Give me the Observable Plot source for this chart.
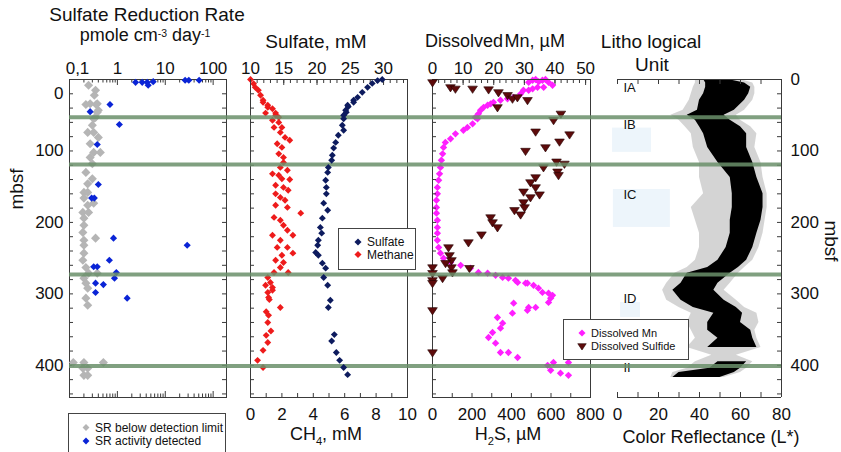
<!DOCTYPE html>
<html>
<head>
<meta charset="utf-8">
<script src="https://cdn.jsdelivr.net/npm/d3@7"></script>
<script src="https://cdn.jsdelivr.net/npm/@observablehq/plot@0.6"></script>
<style>
html,body{margin:0;padding:0;background:#fff;}
#chart{position:relative;width:841px;height:452px;overflow:hidden;background:#fff;font-family:"Liberation Sans",Arial,Helvetica,sans-serif;color:#111;}
#chart svg{position:absolute;top:0;}
.t{position:absolute;white-space:nowrap;line-height:1;transform:translateX(-50%);}
.t sub{font-size:62%;line-height:0;}
.t sup{font-size:58%;line-height:0;vertical-align:0.4em;}
.rot{position:absolute;white-space:nowrap;line-height:1;font-size:19px;}
</style>
</head>
<body>
<div id="chart"></div>
<script>
// ---------------- DATA ----------------
// Lithologic unit boundaries (mbsf) and unit labels
const unitBoundaries = [53, 119, 273, 401];
const units = ["IA", "IB", "IC", "ID", "II"];
const unitLabelDepth = [11, 64, 162, 307, 403];
// faint highlight boxes behind unit labels (L*, mbsf)
const boxLeft = [-2.4, -2, 1.5];
const boxRight = [16.6, 25.8, 11.2];
const boxTop = [68, 154, 312];
const boxBottom = [102, 207, 333];

// Sulfate reduction rate [pmol cm-3 d-1, depth mbsf]
const srBelow = [[0.25,8],[0.35,15],[0.33,22],[0.38,34],[0.27,34],[0.40,43],[0.35,53],[0.22,35],[0.36,35],[0.38,46],[0.32,55],[0.30,64],[0.24,74],[0.32,74],[0.40,81],[0.27,90],[0.32,102],[0.44,102],[0.27,109],[0.30,118],[0.22,130],[0.30,139],[0.24,146],[0.24,158],[0.20,158],[0.20,166],[0.32,173],[0.24,176],[0.19,186],[0.25,186],[0.20,194],[0.20,204],[0.19,214],[0.35,222],[0.20,225],[0.20,232],[0.20,243],[0.19,253],[0.22,263],[0.25,271],[0.38,271],[0.20,278],[0.22,285],[0.24,292],[0.22,306],[0.24,316],[0.12,396],[0.20,396],[0.51,396],[0.19,404],[0.24,404],[0.20,414],[0.24,414]];
const srActive = [[2.4,4],[3.3,4],[4.2,4],[4.4,8],[5.6,3],[26,1],[31,1],[51,1],[0.70,35],[0.27,45],[1.1,63],[0.38,91],[0.40,147],[0.29,166],[0.33,166],[0.83,222],[28.7,232],[0.68,253],[0.32,262],[0.38,262],[0.95,270],[0.87,278],[0.35,285],[0.51,287],[0.35,298],[1.6,306]];
const srTicks = [0.1, 1, 10, 100];
const srTickLabels = ["0,1", "1", "10", "100"];

// Sulfate [mM, depth] and methane [mM, depth]
const sulfate = [[29.8,0],[29.1,1.5],[28.3,5.5],[27.6,11],[26.8,18],[26.1,25],[25.5,29],[24.7,38],[24.3,43],[24.0,50],[25.5,32],[24.6,36],[24.4,46],[24.0,55],[23.8,64],[24.0,71],[23.2,78],[22.8,88],[22.5,96],[22.3,106],[22.2,113],[21.7,123],[21.6,130],[21.3,141],[21.4,151],[21.4,160],[21.0,173],[21.6,183],[20.8,194],[20.5,207],[20.7,215],[20.2,225],[20.1,232],[19.8,242],[20.2,246],[20.8,257],[21.3,264],[21.0,277],[21.6,288],[22.0,309],[21.7,319],[22.6,357],[22.2,366],[22.9,382],[23.4,393],[24.0,403],[24.6,413]];
const methane = [[0,0],[0.2,6],[0.3,11],[0.5,15],[0.64,22],[0.8,29],[1.1,36],[1.4,41],[1.6,50],[1.8,53],[0.8,32],[1.1,39],[0.96,47],[1.6,47],[1.4,57],[1.8,60],[1.5,67],[2.0,67],[1.9,74],[2.2,81],[2.5,85],[1.7,90],[2.0,95],[1.8,104],[2.1,109],[2.1,116],[1.9,123],[2.35,127],[1.4,132],[1.8,134],[2.0,139],[2.5,140],[1.6,148],[2.1,151],[2.4,155],[1.6,160],[1.9,165],[2.2,169],[1.6,176],[2.35,179],[3.2,187],[1.5,193],[1.9,197],[2.1,204],[2.35,211],[1.4,218],[2.7,218],[1.9,225],[1.7,235],[2.35,235],[2.7,243],[2.0,246],[1.6,253],[2.1,256],[1.9,263],[2.4,270],[1.5,270],[1.1,277],[1.27,284],[0.96,288],[1.4,291],[1.1,298],[1.15,305],[1.4,295],[1.2,308],[1.9,319],[1.0,325],[1.15,330],[1.1,340],[1.3,352],[1.0,358],[1.1,368],[0.8,379],[0.45,393],[0.8,403]];

// Dissolved Mn [µM, depth] and dissolved sulfide [µM, depth]
const mn = [[31.4,4],[32.7,1],[33.7,0],[34.7,3],[35.9,1],[36.9,0],[37.9,4],[39.2,8],[36.3,11],[34.3,11],[32.7,13],[31.4,15],[29.7,15],[28.8,20],[26.5,25],[24.5,27],[22.2,29],[19.9,32],[19,34],[18,36],[16.7,39],[15.7,43],[15,48],[14,53],[14.7,55],[13.1,62],[11.4,67],[10.1,71],[7.5,76],[5.9,83],[4.2,88],[3.6,95],[3.3,104],[2.9,113],[2.6,123],[2.3,132],[2.0,141],[1.6,151],[1.6,160],[1.3,169],[1.3,179],[1.3,187],[1.6,197],[1.6,207],[1.6,215],[1.6,225],[2.0,235],[2.6,243],[3.6,250],[5.9,256],[9.2,260],[12.4,264],[15,270],[18,271],[20.6,274],[22.9,277],[24.8,278],[27.1,281],[30.4,285],[33,288],[34.6,292],[35.9,298],[37.9,299],[39.2,302],[38.6,306],[27.8,284],[31,285],[37.9,312],[26.5,313],[26.1,327],[31.4,319],[33.7,319],[31,323],[21.2,333],[22.9,341],[22.2,348],[19.6,354],[18.3,361],[20.6,369],[22.2,382],[24.8,382],[27.8,389],[37.6,400],[39.5,396],[38.6,407],[41.8,411],[44.4,414],[44.4,396]];
const sulfide = [[0,4],[91,11],[116,13],[203,13],[284,14],[334,18],[380,22],[405,27],[430,25],[481,29],[329,39],[650,48],[613,57],[522,73],[694,77],[643,87],[572,95],[471,100],[628,115],[668,118],[562,123],[633,129],[638,134],[522,137],[496,144],[522,151],[461,157],[542,161],[496,165],[461,172],[466,179],[415,183],[446,189],[294,193],[304,200],[329,207],[248,217],[182,228],[81,235],[86,246],[96,253],[66,257],[96,263],[101,270],[187,264],[0,263],[0,271],[51,278],[0,281],[0,285],[0,323],[0,382]];

// Color reflectance L*: depth, dense core range and sparse outer range
const lDepth  = [0,5,11,20,29,43,50,57,66,76,95,116,137,160,179,197,215,235,253,263,271,285,295,309,319,327,340,351,362,375,386,395,404,410,417];
const lCoreLo = [42,43,43,42,40,39,34,38,40,42,44,49,55,56,56,55,55,53,49,44,34,31,27,31,37,47,44,44,49,44,NaN,49,45,30,27];
const lCoreHi = [54,62,65,64,62,57,52,55,60,63,63,66,68,71,71,70,68,66,63,59,55,49,47,52,58,61,60,65,66,68,NaN,63,60,57,50];
const lOutLo  = [38,38,37,36,35,32,26,30,33,36,37,40,40,42,36,38,40,40,38,34,28,24,22,24,30,36,34,36,38,34,46,38,34,27,26];
const lOutHi  = [60,66,67,67,66,62,58,60,65,68,67,70,71,73,73,72,71,69,66,62,59,55,52,58,62,68,69,67,68,70,58,66,63,60,52];

const legendSR = ["SR below detection limit", "SR activity detected"];
const legendSM = ["Sulfate", "Methane"];
const legendMnS = ["Dissolved Mn", "Dissolved Sulfide"];

// ---------------- STYLE / LAYOUT ----------------
const FONT = '"Liberation Sans", Arial, Helvetica, sans-serif';
const H = 452, MT = 79, MB = 55, FH = H - MT - MB;
const depthDomain = [0, 445];
const depthTicks = d3.range(0, 445, 20);
const gray = "#b5b5b5", blue = "#0a24d6", navy = "#0d1b5e", red = "#ee1b1b",
      pink = "#ff1fff", brown = "#5e0b0b", green = "#6a8f6a", ink = "#3a3a3a";
const svgStyle = {background: "transparent", overflow: "visible", fontFamily: FONT, fontSize: "17px", color: "#111"};
const chart = document.getElementById("chart");

const triangleDown = {draw(ctx, size) {
  const s = Math.sqrt(size) * 0.8;
  ctx.moveTo(-s, -s * 0.55); ctx.lineTo(s, -s * 0.55); ctx.lineTo(0, s * 0.95); ctx.closePath();
}};

const topTicks = (vals, len) => Plot.ruleX(vals, {x: d => d, insetBottom: FH - len, stroke: ink});
const bottomTicks = (vals, len) => Plot.ruleX(vals, {x: d => d, insetTop: FH - len, stroke: ink});
const leftTicks = (vals, len, fw) => Plot.ruleY(vals, {y: d => d, insetRight: fw - len, stroke: ink});
const rightTicks = (vals, len, fw) => Plot.ruleY(vals, {y: d => d, insetLeft: fw - len, stroke: ink});
const boundaryRules = (insetLeft, insetRight) => Plot.ruleY(unitBoundaries, {y: d => d, stroke: green, strokeWidth: 4, strokeOpacity: 0.85, insetLeft, insetRight});

function place(svg, left) { svg.style.left = left + "px"; chart.appendChild(svg); }

// ---------------- PANEL 1: SRR ----------------
const logMinor = srTicks.flatMap(d => d3.range(2, 10).map(k => d * k)).filter(v => v <= 190);
place(Plot.plot({
  width: 238, height: H, marginTop: MT, marginBottom: MB, marginLeft: 69, marginRight: 12,
  style: svgStyle,
  x: {type: "log", domain: [0.1, 190]},
  y: {domain: depthDomain, reverse: true},
  marks: [
    Plot.frame({stroke: ink}),
    topTicks(logMinor, 3.5), topTicks(srTicks, 6),
    bottomTicks(logMinor, 3.5), bottomTicks(srTicks, 6),
    leftTicks(depthTicks, 4, 157), rightTicks(depthTicks, 4, 157),
    Plot.axisX({anchor: "top", ticks: srTicks.slice(1), tickSize: 0, tickPadding: 6, tickFormat: d => srTickLabels[srTicks.indexOf(d)], label: null}),
    Plot.text(srTicks.slice(0, 1), {x: d => d, text: () => srTickLabels[0], frameAnchor: "top", lineAnchor: "bottom", dy: -6, dx: 8}),
    Plot.axisY({anchor: "left", ticks: [100, 200, 300, 400], tickSize: 0, tickPadding: 6, label: null}),
    Plot.text([0], {y: d => d, text: () => "0", frameAnchor: "left", textAnchor: "end", dx: -6, dy: 14}),
    Plot.dot(srBelow, {x: d => d[0], y: d => d[1], symbol: "diamond2", r: 4.1, fill: gray}),
    Plot.dot(srActive, {x: d => d[0], y: d => d[1], symbol: "diamond2", r: 3.2, fill: blue}),
    boundaryRules(0, -12)
  ]
}), 0);

// ---------------- PANEL 2: CH4 (bottom) + sulfate (top) ----------------
place(Plot.plot({
  width: 182, height: H, marginTop: MT, marginBottom: MB, marginLeft: 12, marginRight: 13,
  style: svgStyle,
  x: {domain: [0, 10]},
  y: {domain: depthDomain, reverse: true, axis: null},
  marks: [
    Plot.frame({stroke: ink}),
    bottomTicks(d3.range(0, 11, 1), 4),
    leftTicks(depthTicks, 4, 157),
    Plot.axisX({anchor: "bottom", ticks: d3.range(0, 11, 2), tickSize: 0, tickPadding: 10, label: null}),
    Plot.dot(methane, {x: d => d[0], y: d => d[1], symbol: "diamond2", r: 3.1, fill: red}),
    boundaryRules(-12, -13)
  ]
}), 238);
place(Plot.plot({
  width: 182, height: H, marginTop: MT, marginBottom: MB, marginLeft: 12, marginRight: 13,
  style: svgStyle,
  x: {domain: [10, 33.6]},
  y: {domain: depthDomain, reverse: true, axis: null},
  marks: [
    topTicks(d3.range(10, 34, 1), 4), topTicks(d3.range(10, 34, 5), 6),
    Plot.axisX({anchor: "top", ticks: d3.range(10, 31, 5), tickSize: 0, tickPadding: 6, label: null}),
    Plot.dot(sulfate, {x: d => d[0], y: d => d[1], symbol: "diamond2", r: 3.1, fill: navy})
  ]
}), 238);

// ---------------- PANEL 3: Mn (top) + H2S (bottom) ----------------
place(Plot.plot({
  width: 180, height: H, marginTop: MT, marginBottom: MB, marginLeft: 12, marginRight: 10,
  style: svgStyle,
  x: {domain: [0, 51.6]},
  y: {domain: depthDomain, reverse: true, axis: null},
  marks: [
    topTicks(d3.range(0, 52, 2), 4), topTicks(d3.range(0, 52, 10), 6),
    Plot.axisX({anchor: "top", ticks: d3.range(0, 51, 10), tickSize: 0, tickPadding: 6, label: null}),
    Plot.dot(mn, {x: d => d[0], y: d => d[1], symbol: "diamond2", r: 3.3, fill: pink})
  ]
}), 420);
place(Plot.plot({
  width: 180, height: H, marginTop: MT, marginBottom: MB, marginLeft: 12, marginRight: 10,
  style: svgStyle,
  x: {domain: [0, 800]},
  y: {domain: depthDomain, reverse: true, axis: null},
  marks: [
    Plot.frame({stroke: ink}),
    bottomTicks(d3.range(0, 801, 100), 4),
    leftTicks(depthTicks, 4, 158),
    Plot.axisX({anchor: "bottom", ticks: d3.range(0, 801, 200), tickSize: 0, tickPadding: 10, label: null}),
    Plot.dot(sulfide, {x: d => d[0], y: d => d[1], symbol: triangleDown, r: 3.4, fill: brown, stroke: "#220000", strokeWidth: 0.6}),
    boundaryRules(-12, -10)
  ]
}), 420);

// ---------------- PANEL 4: color reflectance + lithology ----------------
const refl = lDepth.map((d, i) => ({d, lo: lCoreLo[i], hi: lCoreHi[i], olo: lOutLo[i], ohi: lOutHi[i]}));
const lDomain = [0, 80];
place(Plot.plot({
  width: 241, height: H, marginTop: MT, marginBottom: MB, marginLeft: 17, marginRight: 60,
  style: svgStyle,
  x: {domain: lDomain},
  y: {domain: depthDomain, reverse: true},
  marks: [
    Plot.rect(boxTop.map((_, i) => i), {x1: i => boxLeft[i], x2: i => boxRight[i], y1: i => boxTop[i], y2: i => boxBottom[i], fill: "#edf5fb"}),
    Plot.areaX(refl, {y: "d", x1: "olo", x2: "ohi", fill: "#000", fillOpacity: 0.17}),
    Plot.areaX(refl, {y: "d", x1: "lo", x2: "hi", fill: "#000"}),
    Plot.ruleY(depthDomain, {y: d => d, stroke: ink}),
    Plot.ruleX(lDomain.slice(1), {x: d => d, stroke: ink}),
    topTicks(d3.range(0, 81, 10), 5), bottomTicks(d3.range(0, 81, 10), 5),
    rightTicks(depthTicks, 4, 164),
    Plot.axisX({anchor: "bottom", ticks: d3.range(0, 81, 20), tickSize: 0, tickPadding: 10, label: null}),
    Plot.axisY({anchor: "right", ticks: [0, 100, 200, 300, 400], tickSize: 0, tickPadding: 9, label: null}),
    Plot.text(units, {y: (d, i) => unitLabelDepth[i], text: d => d, frameAnchor: "left", textAnchor: "start", dx: 6, fontSize: 13}),
    boundaryRules(-17, 0)
  ]
}), 600);

// ---------------- TITLES ----------------
function addText(html, cx, top, fs) {
  const el = document.createElement("div");
  el.className = "t"; el.innerHTML = html;
  el.style.left = cx + "px"; el.style.top = top + "px"; el.style.fontSize = fs + "px";
  chart.appendChild(el);
}
addText("Sulfate Reduction Rate", 147, 5, 19);
addText("pmole cm<sup>-3</sup> day<sup>-1</sup>", 145, 26, 18);
addText("Sulfate, mM", 316, 32, 19);
addText("Dissolved&#8202;Mn, µM", 495, 32, 18);
addText("Litho logical", 651, 32, 19);
addText("Unit", 652, 55, 19);
addText("CH<sub>4</sub>, mM", 326, 425, 18);
addText("H<sub>2</sub>S, µM", 508, 425, 18);
addText("Color Reflectance (L*)", 711, 428, 18);
function addRot(text, cx, cy, deg) {
  const el = document.createElement("div");
  el.className = "rot"; el.textContent = text;
  el.style.left = cx + "px"; el.style.top = cy + "px";
  el.style.transform = `translate(-50%,-50%) rotate(${deg}deg)`;
  chart.appendChild(el);
}
addRot("mbsf", 16, 189, -90);
addRot("mbsf", 831, 241, 90);

// ---------------- LEGENDS ----------------
const lg = d3.create("svg").attr("width", 841).attr("height", 452)
  .style("left", "0px").style("font-family", FONT).style("pointer-events", "none");
function legend(x, y, w, h, fs, mx, tx, items) {
  lg.append("rect").attr("x", x + 0.5).attr("y", y + 0.5).attr("width", w).attr("height", h)
    .attr("fill", "#fff").attr("stroke", "#444");
  items.forEach(it => {
    lg.append("path").attr("transform", `translate(${mx},${it.cy})`)
      .attr("d", d3.symbol(it.sym, it.size)()).attr("fill", it.fill).attr("stroke", it.stroke || "none").attr("stroke-width", 0.6);
    lg.append("text").attr("x", tx).attr("y", it.cy).attr("dy", "0.35em").attr("font-size", fs).attr("fill", "#111").text(it.label);
  });
}
legend(68, 413, 157, 50, 12, 86, 95, [
  {cy: 427.5, sym: d3.symbolDiamond2, size: 30, fill: gray, label: legendSR[0]},
  {cy: 441, sym: d3.symbolDiamond2, size: 30, fill: blue, label: legendSR[1]}
]);
legend(338, 228, 77, 41, 12, 358, 367, [
  {cy: 242, sym: d3.symbolDiamond2, size: 32, fill: navy, label: legendSM[0]},
  {cy: 254.5, sym: d3.symbolDiamond2, size: 32, fill: red, label: legendSM[1]}
]);
legend(563, 319, 125, 40, 11, 582, 591, [
  {cy: 333, sym: d3.symbolDiamond2, size: 32, fill: pink, label: legendMnS[0]},
  {cy: 346, sym: triangleDown, size: 28, fill: brown, stroke: "#220000", label: legendMnS[1]}
]);
chart.appendChild(lg.node());
</script>
</body>
</html>
